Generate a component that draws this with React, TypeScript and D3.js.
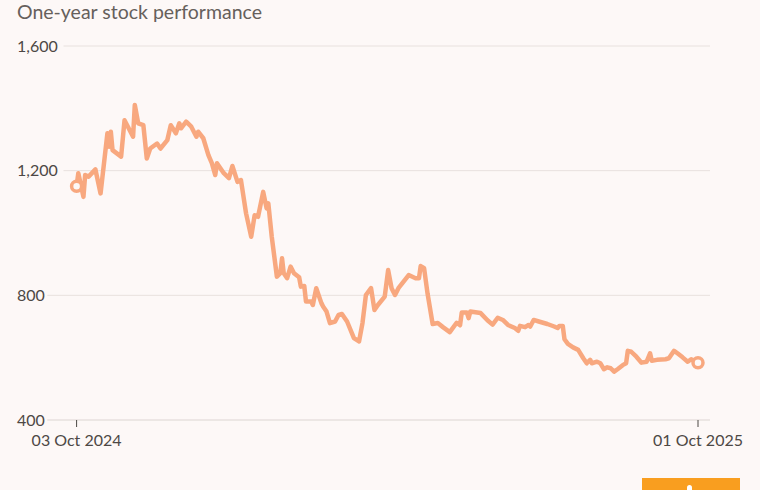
import React from "react";
import * as d3 from "d3";

const TITLE = "One-year stock performance";
const yTicks = [400, 800, 1200, 1600];
const xTickDates = ["2024-10-03", "2025-10-01"];
const xTickLabels = ["03 Oct 2024", "01 Oct 2025"];

const dates = [
  "2024-10-03","2024-10-04","2024-10-07","2024-10-08","2024-10-10","2024-10-14","2024-10-17","2024-10-21","2024-10-22","2024-10-23",
  "2024-10-24","2024-10-29","2024-10-31","2024-11-05","2024-11-06","2024-11-08","2024-11-11","2024-11-13","2024-11-15","2024-11-19",
  "2024-11-21","2024-11-25","2024-11-27","2024-11-30","2024-12-02","2024-12-03","2024-12-06","2024-12-09","2024-12-12","2024-12-13",
  "2024-12-16","2024-12-19","2024-12-21","2024-12-23","2024-12-24","2024-12-28","2024-12-31","2025-01-02","2025-01-05","2025-01-07",
  "2025-01-10","2025-01-13","2025-01-15","2025-01-17","2025-01-20","2025-01-22","2025-01-23","2025-01-25","2025-01-28","2025-01-30",
  "2025-01-31","2025-02-01","2025-02-03","2025-02-05","2025-02-07","2025-02-10","2025-02-11","2025-02-13","2025-02-14","2025-02-17",
  "2025-02-18","2025-02-20","2025-02-23","2025-02-24","2025-02-26","2025-02-28","2025-03-03","2025-03-05","2025-03-07","2025-03-10",
  "2025-03-14","2025-03-17","2025-03-19","2025-03-21","2025-03-24","2025-03-26","2025-03-28","2025-04-01","2025-04-03","2025-04-05",
  "2025-04-07","2025-04-09","2025-04-12","2025-04-15","2025-04-19","2025-04-21","2025-04-22","2025-04-24","2025-04-26","2025-04-29",
  "2025-05-02","2025-05-05","2025-05-09","2025-05-13","2025-05-15","2025-05-16","2025-05-19","2025-05-20","2025-05-21","2025-05-27",
  "2025-05-31","2025-06-03","2025-06-06","2025-06-09","2025-06-12","2025-06-16","2025-06-18","2025-06-19","2025-06-22","2025-06-24",
  "2025-06-25","2025-06-27","2025-06-30","2025-07-05","2025-07-09","2025-07-11","2025-07-12","2025-07-14","2025-07-15","2025-07-17",
  "2025-07-20","2025-07-23","2025-07-26","2025-07-28","2025-07-30","2025-07-31","2025-08-03","2025-08-05","2025-08-07","2025-08-09",
  "2025-08-11","2025-08-13","2025-08-15","2025-08-18","2025-08-20","2025-08-21","2025-08-23","2025-08-26","2025-08-29","2025-09-01",
  "2025-09-03","2025-09-04","2025-09-07","2025-09-12","2025-09-14","2025-09-17","2025-09-19","2025-09-22","2025-09-25","2025-09-27",
  "2025-10-01"
];

const prices = [
  1150,1192,1116,1186,1181,1204,1127,1320,1277,1325,
  1266,1245,1362,1309,1411,1352,1346,1239,1271,1287,
  1271,1298,1346,1320,1352,1336,1357,1341,1309,1325,
  1304,1250,1224,1186,1224,1192,1176,1215,1164,1170,
  1063,988,1057,1052,1132,1079,1095,988,860,871,
  919,871,855,892,871,858,828,830,780,780,
  769,823,775,764,748,711,716,737,740,716,
  663,652,711,801,823,753,769,796,881,823,
  801,823,844,865,855,855,894,887,806,708,
  711,698,682,712,704,745,745,727,748,743,
  720,706,728,721,705,695,686,702,698,705,
  700,721,716,708,700,695,702,702,659,644,
  633,625,598,582,593,582,587,582,563,569,
  566,555,563,576,582,622,619,603,584,587,
  614,590,593,595,598,622,614,601,587,595,
  584
];

const W = 760, H = 490;
const parse = d3.timeParse("%Y-%m-%d");

export default function App() {
  const data = dates.map((d, i) => ({ date: parse(d) as Date, value: prices[i] }));
  const x = d3.scaleTime()
    .domain([parse(xTickDates[0]) as Date, parse(xTickDates[1]) as Date])
    .range([76.6, 698]);
  const y = d3.scaleLinear().domain([400, 1600]).range([420, 46]);
  const line = d3.line<{ date: Date; value: number }>()
    .x(d => x(d.date))
    .y(d => y(d.value))
    .curve(d3.curveLinear);
  const first = data[0];
  const last = data[data.length - 1];
  const font = "Lato, 'Open Sans', sans-serif";
  const lineColor = "#f8a87f";
  const bg = "#fdf8f7";

  return (
    <svg width={W} height={H} style={{ position: "absolute", left: 0, top: 0, background: bg }}>
      <rect x={0} y={0} width={W} height={H} fill={bg} />
      <text x={17} y={19} fontFamily={font} fontSize={19.5} fill="#66605c">{TITLE}</text>
      {yTicks.map(t => {
        const label = d3.format(",")(t);
        const labelW = label.length * 8.1;
        return (
          <g key={t}>
            <line x1={17 + labelW + 6} x2={710} y1={y(t)} y2={y(t)} stroke={t === 400 ? "#dcd5d2" : "#e8e1de"} strokeWidth={1} />
            <text x={17} y={y(t)} dy="0.35em" fontFamily={font} fontSize={16} fill="#4d4845">{label}</text>
          </g>
        );
      })}
      {xTickDates.map((d, i) => {
        const xx = x(parse(d) as Date);
        return (
          <g key={d}>
            <line x1={xx} x2={xx} y1={420} y2={427} stroke="#4d4845" strokeWidth={1} />
            <text x={xx} y={446} textAnchor="middle" fontFamily={font} fontSize={16} fill="#4d4845">{xTickLabels[i]}</text>
          </g>
        );
      })}
      <path d={line(data) || ""} fill="none" stroke={lineColor} strokeWidth={4.5} strokeLinejoin="round" strokeLinecap="round" />
      <circle cx={x(first.date)} cy={y(first.value)} r={5} fill={bg} stroke={lineColor} strokeWidth={3.5} />
      <circle cx={x(last.date)} cy={y(last.value)} r={5} fill={bg} stroke={lineColor} strokeWidth={3.5} />
      <rect x={642} y={478} width={98} height={12} fill="#f99e1f" />
      <rect x={687} y={485} width={5} height={8} rx={2.5} fill="#ffffff" />
    </svg>
  );
}
